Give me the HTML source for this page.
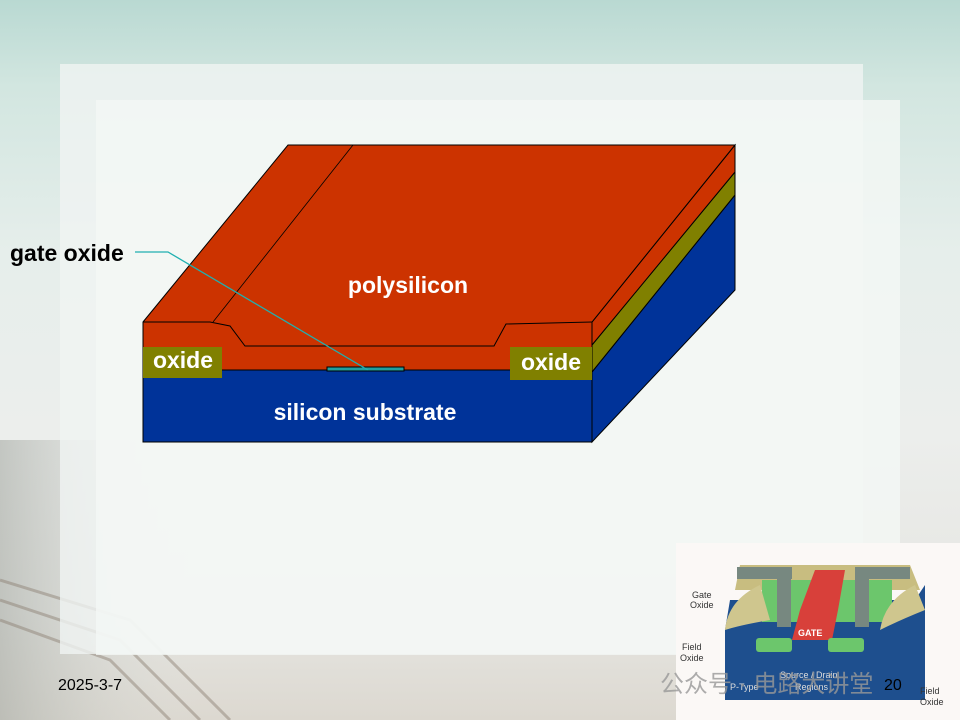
<!DOCTYPE html>
<html><head><meta charset="utf-8"><style>
html,body{margin:0;padding:0;width:960px;height:720px;overflow:hidden}
body{background:linear-gradient(180deg,#b9d9d2 0%,#d2e6e0 12%,#e6eeeb 35%,#eceeec 60%,#e6e6e2 85%,#dcd8d0 100%)}
</style></head><body>
<svg width="960" height="720" viewBox="0 0 960 720" xmlns="http://www.w3.org/2000/svg" style="position:absolute;left:0;top:0">
<defs><linearGradient id="lf" x1="0" x2="1" y1="0" y2="0"><stop offset="0" stop-color="#a8aca6"/><stop offset="1" stop-color="#dfe3df" stop-opacity="0"/></linearGradient></defs>
<rect x="0" y="440" width="200" height="280" fill="url(#lf)" opacity="0.6"/>
<g stroke="#8a7d70" stroke-width="3" fill="none" opacity="0.45">
<path d="M0 600 L120 640 L200 720"/><path d="M0 620 L110 660 L170 720"/><path d="M0 580 L130 620 L230 720"/>
</g>
<rect x="60" y="64" width="803" height="590" fill="#f0f4f2" opacity="0.8"/>
<rect x="96" y="100" width="804" height="555" fill="#f4f7f5" opacity="0.8"/>
<!-- block -->
<g stroke="#000" stroke-width="1">
<polygon points="592,372 735,195 735,290 592,442" fill="#003399"/>
<polygon points="592,345 735,172 735,195 592,372" fill="#808000"/>
<polygon points="592,322 735,145 735,172 592,345" fill="#cc3300"/>
<polygon points="143,322 288,145 735,145 592,322 592,370 143,370" fill="#cc3300"/>
<rect x="143" y="370" width="449" height="72" fill="#003399"/>
<polyline points="143,322 210,322 230,326 245,346 494,346 506,324 592,322" fill="none"/>
<rect x="143" y="347" width="79" height="31" fill="#808000" stroke="none"/>
<rect x="510" y="347" width="82" height="33" fill="#808000" stroke="none"/>
<line x1="353" y1="145" x2="213" y2="322" stroke-width="0.8"/>
<rect x="327" y="367" width="77" height="4" fill="#20a0a0"/>
</g>
<polyline points="135,252 168,252 368,370" fill="none" stroke="#20b0b0" stroke-width="1.3"/>
<g font-family="Liberation Sans, sans-serif" font-weight="bold" fill="#fff" font-size="23">
<text x="408" y="293" text-anchor="middle">polysilicon</text>
<text x="183" y="368" text-anchor="middle">oxide</text>
<text x="551" y="370" text-anchor="middle">oxide</text>
<text x="365" y="420" text-anchor="middle">silicon substrate</text>
<text x="10" y="261" fill="#000">gate oxide</text>
</g>
<text x="58" y="690" font-family="Liberation Sans, sans-serif" font-size="16" fill="#000">2025-3-7</text>
<!-- inset -->
<rect x="676" y="543" width="284" height="177" fill="#fbf8f6"/>
<polygon points="730,600 915,600 925,585 925,700 725,700 725,630" fill="#1e4f8e"/>
<polygon points="740,565 910,565 920,590 735,590" fill="#c8bd80"/>
<rect x="762" y="580" width="130" height="42" fill="#6cc66c"/>
<path d="M725 630 Q728 600 760 585 L770 620 Q740 625 725 630Z" fill="#cfc68e"/>
<path d="M880 630 Q885 600 915 585 L925 610 Q900 620 880 630Z" fill="#cfc68e"/>
<rect x="737" y="567" width="55" height="12" fill="#778880"/><rect x="777" y="567" width="14" height="60" fill="#778880"/>
<rect x="855" y="567" width="55" height="12" fill="#778880"/><rect x="855" y="567" width="14" height="60" fill="#778880"/>
<path d="M792 640 L800 610 L815 570 L845 570 L838 610 L832 640Z" fill="#d8403a"/>
<rect x="756" y="638" width="36" height="14" rx="3" fill="#6cc66c"/><rect x="828" y="638" width="36" height="14" rx="3" fill="#6cc66c"/>
<g font-family="Liberation Sans, sans-serif" font-size="9" fill="#333">
<text x="692" y="598">Gate</text><text x="690" y="608">Oxide</text>
<text x="682" y="650">Field</text><text x="680" y="661">Oxide</text>
<text x="920" y="694">Field</text><text x="920" y="705">Oxide</text>
<text x="780" y="678" fill="#ddd">Source / Drain</text><text x="795" y="690" fill="#ddd">Regions</text>
<text x="730" y="690" fill="#ddd">P-Type</text>
<text x="798" y="636" fill="#fff" font-weight="bold">GATE</text>
</g>
<text x="660" y="692" font-family="Liberation Sans, Noto Sans CJK SC, sans-serif" font-size="24" fill="#999" opacity="0.8">公众号 · 电路大讲堂</text>
<text x="884" y="690" font-family="Liberation Sans, sans-serif" font-size="16" fill="#000">20</text>
</svg>
</body></html>
